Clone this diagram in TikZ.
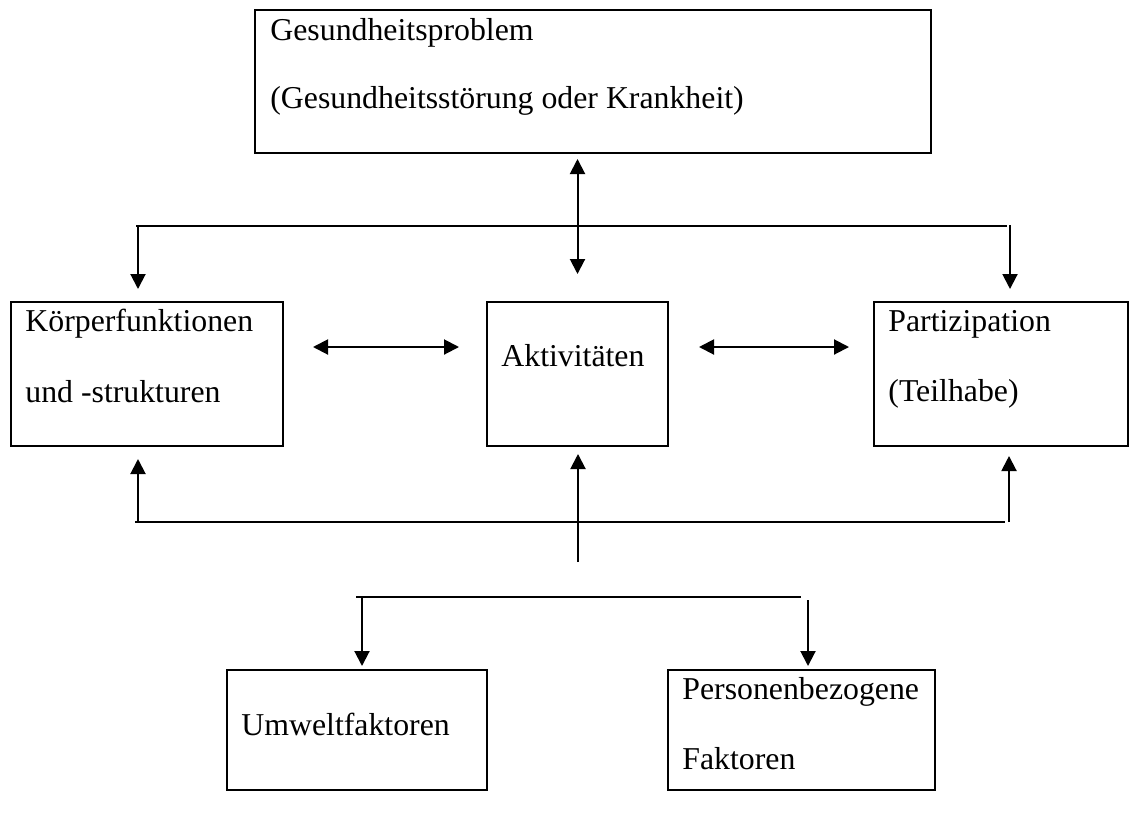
\documentclass[tikz,border=0pt]{standalone}
\usepackage{fontspec}
\setmainfont{Liberation Serif}
\usetikzlibrary{positioning}
\usetikzlibrary{calc}
\usetikzlibrary{arrows.meta}

\begin{document}
\begin{tikzpicture}[x=0.5pt, y=-0.5pt,
    box/.style={draw, line width=1pt, inner sep=0pt, minimum height=72pt},
    lowbox/.style={box, minimum height=60pt},
    txt/.style={anchor=base west, inner sep=0pt, font=\fontsize{15.9}{19}\selectfont},
    bus/.style={line width=1pt},
    arrow/.style={-{Triangle[length=7.5pt, width=7.5pt]}, line width=1pt},
    dblarrow/.style={{Triangle[length=7.5pt, width=7.5pt]}-{Triangle[length=7.5pt, width=7.5pt]}, line width=1pt},
]
\useasboundingbox (0,0) rectangle (1138,814);

% boxes
\node[box, minimum width=338pt, minimum height=71.5pt] (problem) at (593,81.5) {};
\node[box, minimum width=136pt] (koerper) at (147,374) {};
\node[box, minimum width=90.5pt] (aktiv) at (577.5,374) {};
\node[box, minimum width=127pt] (partizip) at (1001,374) {};
\node[lowbox, minimum width=130pt] (umwelt) at (357,730) {};
\node[lowbox, minimum width=133.5pt] (person) at (801.5,730) {};

% texts
\node[txt] (problem1) at ($(problem.north west)+(16,31)$) {Gesundheitsproblem};
\node[txt] (problem2) at ($(problem.north west)+(16,99)$) {(Gesundheitsstörung oder Krankheit)};
\node[txt] (koerper1) at ($(koerper.north west)+(15,30)$) {Körperfunktionen};
\node[txt] (koerper2) at ($(koerper.north west)+(15,101)$) {und -strukturen};
\node[txt] (aktiv1) at ($(aktiv.north west)+(15,65)$) {Aktivitäten};
\node[txt] (partizip1) at ($(partizip.north west)+(15,30)$) {Partizipation};
\node[txt] (partizip2) at ($(partizip.north west)+(15,100)$) {(Teilhabe)};
\node[txt] (umwelt1) at ($(umwelt.north west)+(15,66)$) {Umweltfaktoren};
\node[txt] (person1) at ($(person.north west)+(15,30)$) {Personenbezogene};
\node[txt] (person2) at ($(person.north west)+(15,100)$) {Faktoren};

% upper bus
\coordinate (topbusL) at (136,226);
\coordinate (topbusR) at (1007,226);
\coordinate (koerperin) at (138,226);
\coordinate (partizipin) at (1010,225);
\draw[bus] (topbusL) -- (topbusR);
\draw[arrow, shorten >=6pt] (koerperin) -- (koerperin |- koerper.north);
\draw[arrow, shorten >=6pt] (partizipin) -- (partizipin |- partizip.north);
\draw[dblarrow, shorten <=2.5pt, shorten >=13.5pt] (problem.south -| aktiv.north) -- (aktiv.north);

% middle row
\coordinate (hrow) at (0,347);
\draw[dblarrow, shorten <=14.5pt, shorten >=13.5pt] (koerper.east |- hrow) -- (aktiv.west |- hrow);
\draw[dblarrow, shorten <=15pt, shorten >=12pt] (aktiv.east |- hrow) -- (partizip.west |- hrow);

% lower bus
\coordinate (lowbusL) at (135,522);
\coordinate (lowbusR) at (1005,522);
\coordinate (koerperout) at (138,522);
\coordinate (partizipout) at (1009,522);
\coordinate (kontext) at (578,562);
\draw[bus] (lowbusL) -- (lowbusR);
\draw[arrow, shorten >=6pt] (koerperout) -- (koerperout |- koerper.south);
\draw[arrow, shorten >=4.5pt] (partizipout) -- (partizipout |- partizip.south);
\draw[arrow, shorten >=3.5pt] (kontext) -- (kontext |- aktiv.south);

% context factors
\coordinate (ctxbusL) at (356,597);
\coordinate (ctxbusR) at (801,597);
\coordinate (umweltin) at (362,597);
\coordinate (personin) at (808,600);
\draw[bus] (ctxbusL) -- (ctxbusR);
\draw[arrow, shorten >=1.5pt] (umweltin) -- (umweltin |- umwelt.north);
\draw[arrow, shorten >=1.5pt] (personin) -- (personin |- person.north);
\end{tikzpicture}
\end{document}
